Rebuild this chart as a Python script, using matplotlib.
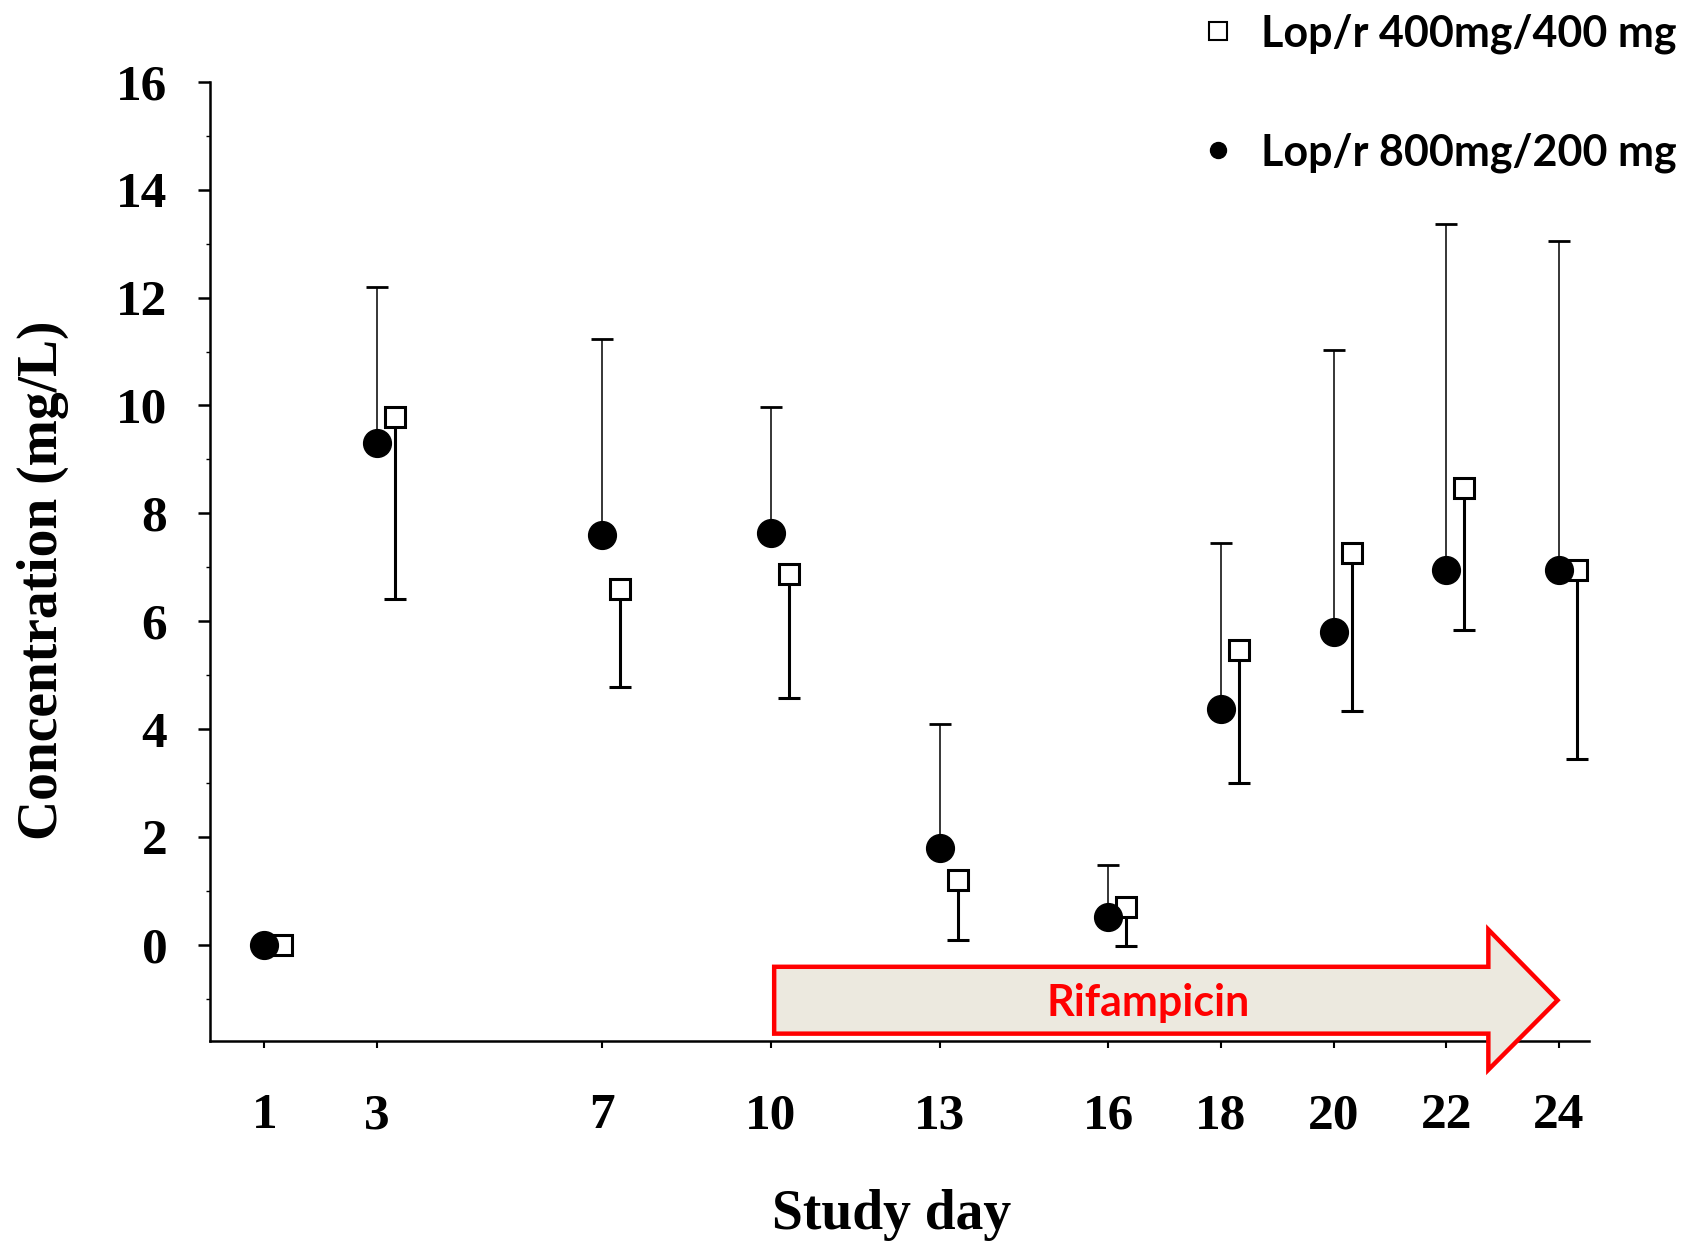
import numpy as np
import matplotlib
matplotlib.use("Agg")
import matplotlib.pyplot as plt
from matplotlib.patches import Polygon
from matplotlib.lines import Line2D

# study days and mean concentrations (mg/L)
days = [1, 3, 7, 10, 13, 16, 18, 20, 22, 24]
conc_800 = [0, 9.31, 7.60, 7.63, 1.80, 0.51, 4.38, 5.80, 6.94, 6.94]
upper_800 = [0, 12.2, 11.23, 9.98, 4.09, 1.48, 7.45, 11.03, 13.37, 13.05]
conc_400 = [0, 9.79, 6.60, 6.87, 1.20, 0.69, 5.46, 7.26, 8.47, 6.94]
lower_400 = [0, 6.42, 4.78, 4.57, 0.08, -0.03, 2.99, 4.33, 5.84, 3.45]
y_ticks = [0, 2, 4, 6, 8, 10, 12, 14, 16]

label_400 = "Lop/r 400mg/400 mg"
label_800 = "Lop/r 800mg/200 mg"
arrow_text = "Rifampicin"

serif = "Liberation Serif"
sans = "Lato"

days = np.array(days, dtype=float)
conc_800 = np.array(conc_800)
upper_800 = np.array(upper_800)
conc_400 = np.array(conc_400)
lower_400 = np.array(lower_400)
shift = 0.32  # the open squares sit a little right of the day

fig = plt.figure(figsize=(16.91, 12.46), dpi=100)
ax = fig.add_axes([0.1244, 0.1648, 0.8150, 0.7694])

# 400/400: error bars downward only
err400 = [conc_400 - lower_400, np.zeros(len(days))]
ax.errorbar(days + shift, conc_400, yerr=err400, fmt="none", ecolor="black",
            elinewidth=2.2, capsize=8, capthick=2.2, zorder=2)
ax.plot(days + shift, conc_400, ls="none", marker="s", ms=14.5, mfc="white",
        mec="black", mew=2.2, zorder=3)

# 800/200: error bars upward only
err800 = [np.zeros(len(days)), upper_800 - conc_800]
ax.errorbar(days, conc_800, yerr=err800, fmt="none", ecolor="black",
            elinewidth=1.1, capsize=8, capthick=2.0, zorder=4)
ax.plot(days, conc_800, ls="none", marker="o", ms=20, mfc="black",
        mec="black", zorder=5)

# rifampicin arrow
x0, x_head, x_tip = 10.06, 22.75, 23.98
y_top, y_bot, yh_top, yh_bot = -0.41, -1.65, 0.28, -2.32
y_mid = (y_top + y_bot) / 2
arrow = Polygon([(x0, y_top), (x_head, y_top), (x_head, yh_top), (x_tip, y_mid),
                 (x_head, yh_bot), (x_head, y_bot), (x0, y_bot)],
                closed=True, facecolor="#ECE9DF", edgecolor="#FF0000",
                linewidth=3.2, joinstyle="miter", clip_on=False, zorder=6)
ax.add_patch(arrow)
ax.text((x0 + x_head) / 2 + 0.3, y_mid - 0.05, arrow_text, color="#FF0000",
        fontsize=31, fontweight="bold", family=sans, ha="center", va="center",
        zorder=7)

ax.set_xlim(0.042, 24.53)
ax.set_ylim(-1.78, 16)
ax.spines["top"].set_visible(False)
ax.spines["right"].set_visible(False)
ax.spines["left"].set_linewidth(1.8)
ax.spines["bottom"].set_linewidth(1.8)

ax.set_xticks(days)
ax.set_xticklabels([str(int(d)) for d in days])
ax.set_yticks(y_ticks)
ax.set_yticks(np.arange(-1, 16, 1), minor=True)
ax.tick_params(axis="y", which="major", direction="out", length=9, width=1.8, pad=22)
ax.tick_params(axis="y", which="minor", direction="out", length=3, width=1.0)
ax.tick_params(axis="x", which="major", direction="out", length=5, width=1.5, pad=33)
for lab in ax.get_xticklabels() + ax.get_yticklabels():
    lab.set_family(serif)
    lab.set_fontweight("bold")
    lab.set_fontsize(37)

ax.set_ylabel("Concentration (mg/L)", family=serif, fontweight="bold", fontsize=40,
              va="center")
ax.set_xlabel("Study day", family=serif, fontweight="bold", fontsize=40, va="center")
ax.yaxis.set_label_coords(-0.1214, 0.4806)
ax.xaxis.set_label_coords(0.494, -0.182)

handles = [Line2D([], [], ls="none", marker="s", ms=13, mfc="white", mec="black", mew=1.5),
           Line2D([], [], ls="none", marker="o", ms=11.5, mfc="black", mec="black")]
fig.legend(handles, [label_400, label_800], loc="upper left",
           bbox_to_anchor=(1205 / 1691, 1.0 - 13 / 1246), frameon=False,
           prop={"family": sans, "weight": "bold", "size": 31},
           handlelength=0.6, handletextpad=0.7, labelspacing=1.83,
           borderpad=0.0, borderaxespad=0.0)

fig.savefig("out.png", dpi=100)
